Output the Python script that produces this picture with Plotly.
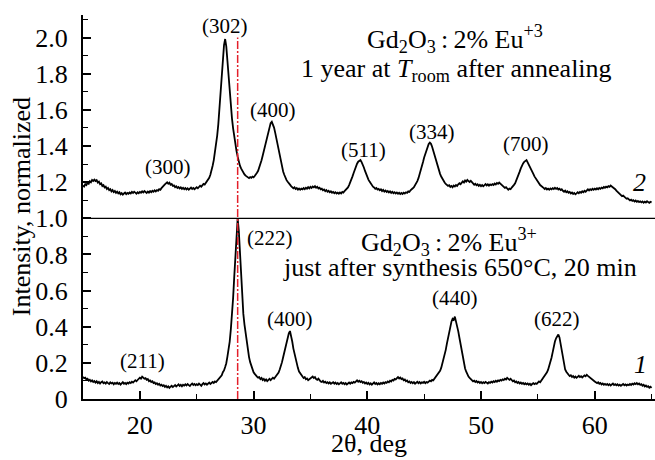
import numpy as np
import plotly.graph_objects as go

# 2-theta scan grid, 15.0 ... 65.0 deg, step 0.1
two_theta = np.round(np.arange(150, 651) / 10, 1)

# Pattern 1: just after synthesis (normalized to the (222) peak)
pattern_1_rows = [
    [0.122, 0.115, 0.118, 0.108, 0.112, 0.101, 0.106, 0.097, 0.103, 0.094],  # 15
    [0.099, 0.091, 0.098, 0.088, 0.095, 0.086, 0.093, 0.097, 0.087, 0.092],  # 16
    [0.085, 0.094, 0.088, 0.083, 0.092, 0.086, 0.090, 0.081, 0.089, 0.084],  # 17
    [0.091, 0.083, 0.088, 0.080, 0.087, 0.093, 0.084, 0.089, 0.082, 0.090],  # 18
    [0.086, 0.093, 0.088, 0.096, 0.091, 0.099, 0.104, 0.098, 0.108, 0.112],  # 19
    [0.118, 0.113, 0.124, 0.117, 0.112, 0.115, 0.106, 0.110, 0.099, 0.103],  # 20
    [0.094, 0.098, 0.088, 0.092, 0.083, 0.087, 0.079, 0.084, 0.075, 0.079],  # 21
    [0.072, 0.076, 0.067, 0.073, 0.064, 0.070, 0.062, 0.068, 0.073, 0.066],  # 22
    [0.071, 0.077, 0.069, 0.074, 0.081, 0.072, 0.078, 0.070, 0.079, 0.074],  # 23
    [0.081, 0.075, 0.083, 0.077, 0.072, 0.080, 0.086, 0.078, 0.083, 0.076],  # 24
    [0.082, 0.077, 0.085, 0.079, 0.073, 0.082, 0.088, 0.080, 0.086, 0.079],  # 25
    [0.084, 0.091, 0.083, 0.088, 0.094, 0.089, 0.097, 0.093, 0.101, 0.106],  # 26
    [0.112, 0.124, 0.131, 0.148, 0.158, 0.177, 0.198, 0.235, 0.272, 0.318],  # 27
    [0.385, 0.455, 0.558, 0.676, 0.802, 0.921, 0.998, 0.932, 0.806, 0.664],  # 28
    [0.552, 0.471, 0.412, 0.362, 0.311, 0.268, 0.232, 0.204, 0.181, 0.162],  # 29
    [0.148, 0.139, 0.128, 0.124, 0.118, 0.121, 0.110, 0.116, 0.105, 0.111],  # 30
    [0.101, 0.108, 0.099, 0.106, 0.112, 0.104, 0.111, 0.118, 0.112, 0.121],  # 31
    [0.128, 0.137, 0.146, 0.163, 0.181, 0.204, 0.231, 0.258, 0.292, 0.318],  # 32
    [0.348, 0.364, 0.376, 0.352, 0.318, 0.279, 0.248, 0.218, 0.193, 0.171],  # 33
    [0.152, 0.141, 0.128, 0.124, 0.116, 0.121, 0.109, 0.113, 0.104, 0.110],  # 34
    [0.112, 0.118, 0.124, 0.116, 0.121, 0.110, 0.106, 0.113, 0.101, 0.097],  # 35
    [0.094, 0.100, 0.091, 0.096, 0.088, 0.093, 0.086, 0.092, 0.084, 0.089],  # 36
    [0.093, 0.085, 0.091, 0.083, 0.088, 0.081, 0.087, 0.092, 0.084, 0.089],  # 37
    [0.082, 0.088, 0.080, 0.086, 0.091, 0.085, 0.092, 0.088, 0.095, 0.091],  # 38
    [0.098, 0.103, 0.096, 0.101, 0.094, 0.098, 0.090, 0.094, 0.086, 0.091],  # 39
    [0.083, 0.089, 0.081, 0.087, 0.079, 0.085, 0.092, 0.083, 0.088, 0.081],  # 40
    [0.087, 0.082, 0.089, 0.084, 0.091, 0.086, 0.093, 0.089, 0.097, 0.093],  # 41
    [0.101, 0.097, 0.106, 0.102, 0.111, 0.108, 0.116, 0.121, 0.114, 0.119],  # 42
    [0.110, 0.114, 0.104, 0.108, 0.098, 0.102, 0.093, 0.097, 0.089, 0.094],  # 43
    [0.087, 0.093, 0.085, 0.091, 0.095, 0.088, 0.094, 0.086, 0.092, 0.089],  # 44
    [0.095, 0.088, 0.094, 0.091, 0.097, 0.102, 0.098, 0.106, 0.103, 0.112],  # 45
    [0.117, 0.124, 0.132, 0.141, 0.156, 0.172, 0.194, 0.218, 0.243, 0.272],  # 46
    [0.306, 0.338, 0.372, 0.401, 0.428, 0.444, 0.438, 0.456, 0.431, 0.412],  # 47
    [0.374, 0.339, 0.302, 0.264, 0.228, 0.196, 0.169, 0.151, 0.136, 0.124],  # 48
    [0.117, 0.109, 0.104, 0.098, 0.102, 0.094, 0.099, 0.091, 0.096, 0.089],  # 49
    [0.094, 0.087, 0.093, 0.088, 0.095, 0.090, 0.086, 0.093, 0.089, 0.096],  # 50
    [0.091, 0.098, 0.094, 0.101, 0.096, 0.103, 0.099, 0.106, 0.102, 0.109],  # 51
    [0.105, 0.112, 0.108, 0.117, 0.111, 0.106, 0.112, 0.103, 0.098, 0.102],  # 52
    [0.093, 0.097, 0.089, 0.094, 0.086, 0.091, 0.084, 0.089, 0.082, 0.087],  # 53
    [0.081, 0.086, 0.079, 0.084, 0.077, 0.083, 0.088, 0.082, 0.087, 0.084],  # 54
    [0.091, 0.097, 0.093, 0.102, 0.108, 0.114, 0.126, 0.133, 0.148, 0.162],  # 55
    [0.181, 0.204, 0.228, 0.258, 0.292, 0.318, 0.336, 0.348, 0.357, 0.341],  # 56
    [0.302, 0.258, 0.218, 0.188, 0.163, 0.151, 0.139, 0.134, 0.127, 0.131],  # 57
    [0.122, 0.127, 0.118, 0.124, 0.117, 0.122, 0.128, 0.121, 0.126, 0.119],  # 58
    [0.125, 0.131, 0.126, 0.134, 0.128, 0.122, 0.117, 0.112, 0.106, 0.101],  # 59
    [0.097, 0.092, 0.088, 0.093, 0.084, 0.089, 0.081, 0.086, 0.079, 0.084],  # 60
    [0.078, 0.083, 0.076, 0.082, 0.075, 0.080, 0.085, 0.077, 0.082, 0.076],  # 61
    [0.081, 0.074, 0.079, 0.073, 0.078, 0.083, 0.076, 0.081, 0.075, 0.080],  # 62
    [0.077, 0.083, 0.078, 0.085, 0.080, 0.087, 0.082, 0.088, 0.081, 0.086],  # 63
    [0.078, 0.082, 0.074, 0.079, 0.070, 0.075, 0.067, 0.071, 0.063, 0.068],  # 64
    [0.062],                                                                 # 65
]

# Pattern 2: 1 year at room temperature after annealing (offset above 1.0)
pattern_2_rows = [
    [1.182, 1.176, 1.189, 1.184, 1.196, 1.191, 1.205, 1.199, 1.212, 1.207],  # 15
    [1.214, 1.206, 1.211, 1.198, 1.203, 1.189, 1.193, 1.179, 1.184, 1.171],  # 16
    [1.175, 1.162, 1.168, 1.156, 1.161, 1.149, 1.156, 1.145, 1.151, 1.141],  # 17
    [1.147, 1.138, 1.144, 1.133, 1.139, 1.131, 1.137, 1.142, 1.134, 1.140],  # 18
    [1.136, 1.143, 1.138, 1.146, 1.140, 1.147, 1.142, 1.136, 1.144, 1.139],  # 19
    [1.146, 1.141, 1.149, 1.143, 1.151, 1.145, 1.140, 1.148, 1.142, 1.150],  # 20
    [1.144, 1.152, 1.147, 1.155, 1.149, 1.156, 1.152, 1.161, 1.158, 1.167],  # 21
    [1.172, 1.181, 1.188, 1.194, 1.199, 1.191, 1.197, 1.186, 1.190, 1.179],  # 22
    [1.182, 1.172, 1.177, 1.168, 1.173, 1.165, 1.171, 1.163, 1.169, 1.161],  # 23
    [1.167, 1.160, 1.166, 1.158, 1.164, 1.170, 1.162, 1.168, 1.161, 1.167],  # 24
    [1.172, 1.166, 1.174, 1.180, 1.175, 1.184, 1.190, 1.187, 1.196, 1.203],  # 25
    [1.212, 1.224, 1.241, 1.262, 1.291, 1.322, 1.361, 1.402, 1.458, 1.521],  # 26
    [1.618, 1.715, 1.815, 1.901, 1.958, 1.992, 1.951, 1.872, 1.781, 1.702],  # 27
    [1.621, 1.553, 1.498, 1.451, 1.409, 1.372, 1.341, 1.312, 1.291, 1.276],  # 28
    [1.262, 1.251, 1.243, 1.236, 1.231, 1.227, 1.222, 1.228, 1.224, 1.231],  # 29
    [1.227, 1.234, 1.241, 1.252, 1.263, 1.279, 1.298, 1.321, 1.346, 1.374],  # 30
    [1.402, 1.431, 1.462, 1.488, 1.512, 1.527, 1.534, 1.521, 1.502, 1.474],  # 31
    [1.441, 1.409, 1.376, 1.342, 1.311, 1.284, 1.259, 1.241, 1.224, 1.211],  # 32
    [1.202, 1.191, 1.186, 1.178, 1.174, 1.166, 1.171, 1.162, 1.167, 1.159],  # 33
    [1.165, 1.158, 1.164, 1.160, 1.167, 1.161, 1.169, 1.164, 1.172, 1.166],  # 34
    [1.174, 1.168, 1.176, 1.171, 1.178, 1.169, 1.174, 1.165, 1.169, 1.160],  # 35
    [1.164, 1.155, 1.159, 1.150, 1.156, 1.147, 1.152, 1.144, 1.149, 1.141],  # 36
    [1.146, 1.139, 1.144, 1.137, 1.142, 1.136, 1.143, 1.138, 1.146, 1.142],  # 37
    [1.151, 1.156, 1.163, 1.171, 1.184, 1.198, 1.214, 1.232, 1.251, 1.272],  # 38
    [1.289, 1.302, 1.313, 1.318, 1.322, 1.311, 1.298, 1.281, 1.262, 1.243],  # 39
    [1.229, 1.214, 1.203, 1.192, 1.184, 1.175, 1.171, 1.163, 1.168, 1.159],  # 40
    [1.163, 1.155, 1.160, 1.151, 1.157, 1.148, 1.154, 1.146, 1.151, 1.143],  # 41
    [1.149, 1.141, 1.147, 1.139, 1.144, 1.137, 1.143, 1.136, 1.141, 1.134],  # 42
    [1.140, 1.135, 1.142, 1.137, 1.144, 1.141, 1.149, 1.146, 1.155, 1.159],  # 43
    [1.166, 1.172, 1.181, 1.192, 1.206, 1.222, 1.241, 1.262, 1.285, 1.311],  # 44
    [1.336, 1.358, 1.381, 1.398, 1.411, 1.419, 1.412, 1.396, 1.374, 1.349],  # 45
    [1.324, 1.301, 1.281, 1.262, 1.246, 1.231, 1.218, 1.207, 1.198, 1.191],  # 46
    [1.186, 1.179, 1.183, 1.174, 1.179, 1.172, 1.181, 1.176, 1.184, 1.179],  # 47
    [1.188, 1.194, 1.189, 1.198, 1.204, 1.198, 1.209, 1.203, 1.212, 1.206],  # 48
    [1.201, 1.207, 1.197, 1.193, 1.186, 1.191, 1.183, 1.188, 1.179, 1.185],  # 49
    [1.178, 1.184, 1.177, 1.183, 1.189, 1.182, 1.188, 1.181, 1.187, 1.183],  # 50
    [1.189, 1.184, 1.192, 1.187, 1.195, 1.191, 1.198, 1.192, 1.186, 1.180],  # 51
    [1.176, 1.168, 1.172, 1.163, 1.158, 1.164, 1.161, 1.170, 1.176, 1.185],  # 52
    [1.194, 1.208, 1.223, 1.241, 1.258, 1.276, 1.293, 1.304, 1.312, 1.318],  # 53
    [1.322, 1.309, 1.298, 1.285, 1.271, 1.258, 1.246, 1.232, 1.221, 1.209],  # 54
    [1.201, 1.192, 1.184, 1.179, 1.171, 1.168, 1.162, 1.167, 1.159, 1.164],  # 55
    [1.158, 1.165, 1.160, 1.167, 1.162, 1.169, 1.163, 1.168, 1.159, 1.164],  # 56
    [1.156, 1.161, 1.152, 1.147, 1.153, 1.144, 1.149, 1.141, 1.146, 1.138],  # 57
    [1.143, 1.135, 1.140, 1.133, 1.138, 1.144, 1.139, 1.146, 1.141, 1.149],  # 58
    [1.144, 1.152, 1.147, 1.155, 1.160, 1.154, 1.161, 1.156, 1.163, 1.158],  # 59
    [1.164, 1.159, 1.166, 1.161, 1.168, 1.163, 1.170, 1.166, 1.173, 1.169],  # 60
    [1.175, 1.171, 1.178, 1.174, 1.181, 1.176, 1.172, 1.166, 1.161, 1.153],  # 61
    [1.147, 1.141, 1.134, 1.130, 1.123, 1.126, 1.118, 1.114, 1.108, 1.111],  # 62
    [1.104, 1.099, 1.103, 1.096, 1.100, 1.093, 1.098, 1.091, 1.096, 1.090],  # 63
    [1.094, 1.088, 1.093, 1.086, 1.092, 1.087, 1.094, 1.089, 1.085, 1.091],  # 64
    [1.088],                                                                 # 65
]

pattern_1 = [v for row in pattern_1_rows for v in row]
pattern_2 = [v for row in pattern_2_rows for v in row]
assert len(pattern_1) == len(two_theta) == len(pattern_2)

# Miller-index labels: (text, 2theta, intensity)
hkl_upper = [("(300)", 22.48, 1.285), ("(302)", 27.5, 2.063), ("(400)", 31.74, 1.60),
             ("(511)", 39.65, 1.379), ("(334)", 45.67, 1.48), ("(700)", 53.97, 1.41)]
hkl_lower = [("(211)", 20.2, 0.21), ("(222)", 31.45, 0.89), ("(400)", 33.2, 0.443),
             ("(440)", 47.72, 0.56), ("(622)", 56.67, 0.443)]

# Reference position of the cubic (222) reflection
ref_2theta = 28.6
ref_top = 2.0
split_level = 1.0

y_tick_vals = [0, 0.2, 0.4, 0.6, 0.8, 1.0, 1.2, 1.4, 1.6, 1.8, 2.0]
y_tick_text = ["0", "0.2", "0.4", "0.6", "0.8", "1.0", "1.2", "1.4", "1.6", "1.8", "2.0"]
y_minor_vals = [0.1, 0.3, 0.5, 0.7, 0.9, 1.1, 1.3, 1.5, 1.7, 1.9, 2.1]

FONT = "'Liberation Serif', 'Times New Roman', 'DejaVu Serif', serif"

fig = go.Figure()
for ys in (pattern_1, pattern_2):
    fig.add_trace(go.Scatter(x=two_theta, y=ys, mode="lines",
                             line=dict(color="black", width=1.8),
                             showlegend=False, hoverinfo="skip"))

fig.add_shape(type="line", xref="paper", yref="y", x0=0, x1=1,
              y0=split_level, y1=split_level, line=dict(color="black", width=1.3))
fig.add_shape(type="line", xref="x", yref="y", x0=ref_2theta, x1=ref_2theta,
              y0=0, y1=ref_top, line=dict(color="#e3202b", width=1.5, dash="8px,2px,2px,2px"))

annotations = []
for txt, xx, yy in hkl_upper + hkl_lower:
    annotations.append(dict(x=xx, y=yy, text=txt, showarrow=False,
                            font=dict(family=FONT, size=21, color="black"),
                            xanchor="center", yanchor="middle"))

big = dict(family=FONT, size=26, color="black")
annotations += [
    dict(x=47.68, y=1.99, text="Gd<sub>2</sub>O<sub>3</sub>\u2009:\u20092% Eu<sup>+3</sup>",
         showarrow=False, font=big, xanchor="center", yanchor="middle"),
    dict(x=47.85, y=1.82, text="1 year at <i>T</i><sub>room</sub> after annealing",
         showarrow=False, font=big, xanchor="center", yanchor="middle"),
    dict(x=47.15, y=0.867, text="Gd<sub>2</sub>O<sub>3</sub>\u2009:\u20092% Eu<sup>3+</sup>",
         showarrow=False, font=big, xanchor="center", yanchor="middle"),
    dict(x=48.15, y=0.73, text="just after synthesis 650°C, 20 min",
         showarrow=False, font=big, xanchor="center", yanchor="middle"),
    dict(x=63.9, y=1.20, text="<i>2</i>", showarrow=False, font=big,
         xanchor="center", yanchor="middle"),
    dict(x=64.0, y=0.19, text="<i>1</i>", showarrow=False, font=big,
         xanchor="center", yanchor="middle"),
    dict(xref="paper", yref="paper", x=-0.108, y=0.5, text="Intensity, normalized",
         textangle=-90, showarrow=False, font=big, xanchor="center", yanchor="middle"),
    dict(xref="paper", yref="paper", x=0.5, y=-0.072, text="2θ, deg",
         showarrow=False, font=big, xanchor="center", yanchor="top"),
]

fig.update_layout(
    width=655, height=460,
    margin=dict(l=83, r=0, t=15, b=61),
    paper_bgcolor="white", plot_bgcolor="white",
    font=dict(family=FONT, size=26, color="black"),
    annotations=annotations,
    xaxis=dict(range=[15, 65.3], showgrid=False, zeroline=False,
               showline=True, linecolor="black", linewidth=2,
               ticks="inside", ticklen=8, tickwidth=1.5, tickcolor="black",
               tick0=0, dtick=10, ticklabelstandoff=2,
               tickfont=dict(family=FONT, size=26),
               minor=dict(ticks="inside", ticklen=5, tickwidth=1.2,
                          tickcolor="black", dtick=5, tick0=0)),
    yaxis=dict(range=[0, 2.125], showgrid=False, zeroline=False,
               showline=True, linecolor="black", linewidth=2,
               ticks="inside", ticklen=8, tickwidth=1.5, tickcolor="black",
               tickmode="array", tickvals=y_tick_vals, ticktext=y_tick_text,
               ticklabelstandoff=8, tickfont=dict(family=FONT, size=26),
               minor=dict(ticks="inside", ticklen=5, tickwidth=1.2,
                          tickcolor="black", tickmode="array",
                          tickvals=y_minor_vals)),
)

fig.write_html("out.html")
